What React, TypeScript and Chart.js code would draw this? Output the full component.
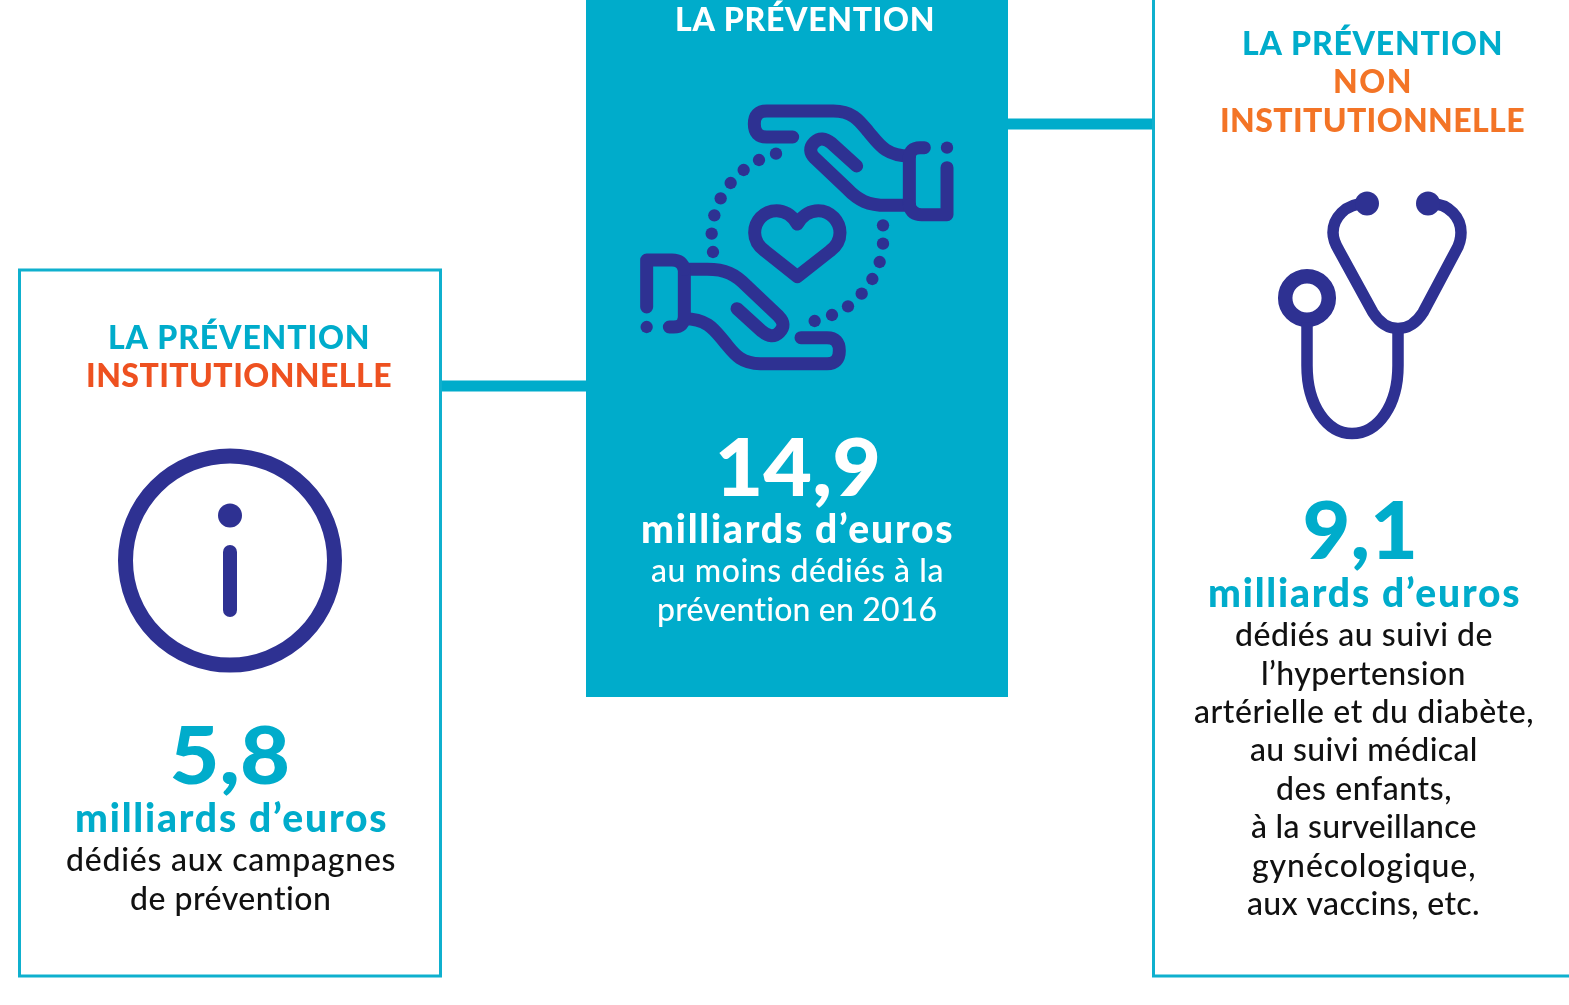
import React, { useEffect, useRef } from "react";
import { Chart, registerables } from "chart.js";

Chart.register(...registerables);

// ---- data ----
const categories = ["La prévention institutionnelle", "La prévention", "La prévention non institutionnelle"];
const amounts = [5.8, 14.9, 9.1];
const unit = "milliards d’euros";
const titleLeft = ["LA PRÉVENTION", "INSTITUTIONNELLE"];
const titleCenter = ["LA PRÉVENTION"];
const titleRight = ["LA PRÉVENTION", "NON", "INSTITUTIONNELLE"];
const textLeft = ["dédiés aux campagnes", "de prévention"];
const textCenter = ["au moins dédiés à la", "prévention en 2016"];
const textRight = [
  "dédiés au suivi de",
  "l’hypertension",
  "artérielle et du diabète,",
  "au suivi médical",
  "des enfants,",
  "à la surveillance",
  "gynécologique,",
  "aux vaccins, etc.",
];

// ---- style ----
const CYAN = "#00accb";
const NAVY = "#2e3192";
const RED = "#ee5120";
const ORANGE = "#f37426";
const INK = "#111111";
const FAMILY = "Lato, 'Open Sans', sans-serif";

type Box = [number, number, number]; // left, right, baseline

function fitted(ctx: CanvasRenderingContext2D, text: string, font: string, color: string, box: Box) {
  const [l, r, b] = box;
  ctx.font = font;
  ctx.fillStyle = color;
  ctx.textAlign = "left";
  ctx.textBaseline = "alphabetic";
  (ctx as any).letterSpacing = "0px";
  const w = ctx.measureText(text).width;
  const sp = (r + 1.5 - l - w) / Math.max(1, text.length - 1);
  (ctx as any).letterSpacing = `${sp}px`;
  ctx.fillText(text, l, b + 1);
  (ctx as any).letterSpacing = "0px";
}

function stretched(ctx: CanvasRenderingContext2D, text: string, font: string, color: string, box: Box) {
  const [l, r, b] = box;
  ctx.font = font;
  ctx.fillStyle = color;
  ctx.textAlign = "left";
  ctx.textBaseline = "alphabetic";
  const w = ctx.measureText(text).width;
  ctx.save();
  ctx.translate(l - 3.5, b + 1);
  ctx.scale((r - l + 6.5) / w, 1);
  ctx.fillText(text, 0, 0);
  ctx.restore();
}

function handPaths(ctx: CanvasRenderingContext2D) {
  ctx.beginPath();
  ctx.moveTo(518, 171);
  ctx.lineTo(440, 171);
  ctx.quadraticCurveTo(403, 171, 403, 132);
  ctx.quadraticCurveTo(403, 93, 440, 93);
  ctx.lineTo(640, 93);
  ctx.bezierCurveTo(700, 93, 720, 125, 745, 155);
  ctx.bezierCurveTo(775, 190, 795, 228, 868, 228);
  ctx.stroke();

  ctx.beginPath();
  ctx.moveTo(710, 258);
  ctx.lineTo(635, 190);
  ctx.quadraticCurveTo(605, 165, 583, 187);
  ctx.quadraticCurveTo(560, 210, 585, 235);
  ctx.lineTo(680, 325);
  ctx.bezierCurveTo(715, 362, 745, 376, 800, 376);
  ctx.lineTo(868, 376);
  ctx.stroke();

  ctx.beginPath();
  ctx.moveTo(868, 376);
  ctx.lineTo(868, 235);
  ctx.quadraticCurveTo(868, 203, 900, 203);
  ctx.lineTo(913, 203);
  ctx.stroke();

  ctx.beginPath();
  ctx.moveTo(868, 376);
  ctx.quadraticCurveTo(875, 404, 905, 404);
  ctx.lineTo(981, 404);
  ctx.lineTo(981, 263);
  ctx.stroke();

  ctx.beginPath();
  ctx.arc(981, 203, 18.5, 0, Math.PI * 2);
  ctx.fill();
}

function handsIcon(ctx: CanvasRenderingContext2D) {
  ctx.save();
  ctx.translate(620, 80);
  ctx.scale(1 / 3, 1 / 3);
  ctx.strokeStyle = NAVY;
  ctx.fillStyle = NAVY;
  ctx.lineWidth = 39;
  ctx.lineCap = "round";
  ctx.lineJoin = "round";
  handPaths(ctx);
  ctx.save();
  ctx.translate(530.5 * 2, 472 * 2);
  ctx.rotate(Math.PI);
  handPaths(ctx);
  ctx.restore();
  const dots = [
    [468, 221], [417, 240], [371, 270], [332, 309], [302, 355], [283, 406], [275, 461], [279, 516],
    [584, 723], [636, 705], [684, 679], [725, 641], [757, 597], [779, 546], [789, 491], [789, 436],
  ];
  dots.forEach(([x, y]) => {
    ctx.beginPath();
    ctx.arc(x, y, 18.5, 0, Math.PI * 2);
    ctx.fill();
  });
  ctx.beginPath();
  ctx.moveTo(532, 432);
  ctx.bezierCurveTo(515, 402, 490, 392, 470, 392);
  ctx.bezierCurveTo(430, 392, 404, 425, 404, 458);
  ctx.bezierCurveTo(404, 480, 415, 498, 435, 513);
  ctx.lineTo(532, 590);
  ctx.lineTo(630, 513);
  ctx.bezierCurveTo(650, 498, 660, 480, 660, 458);
  ctx.bezierCurveTo(660, 425, 632, 392, 595, 392);
  ctx.bezierCurveTo(575, 392, 549, 402, 532, 432);
  ctx.closePath();
  ctx.stroke();
  ctx.restore();
}

function infoIcon(ctx: CanvasRenderingContext2D) {
  ctx.save();
  ctx.strokeStyle = NAVY;
  ctx.fillStyle = NAVY;
  ctx.lineWidth = 15;
  ctx.beginPath();
  ctx.arc(230, 560.5, 104.5, 0, Math.PI * 2);
  ctx.stroke();
  ctx.beginPath();
  ctx.arc(230, 515.5, 12, 0, Math.PI * 2);
  ctx.fill();
  ctx.lineWidth = 14;
  ctx.lineCap = "round";
  ctx.beginPath();
  ctx.moveTo(230, 552);
  ctx.lineTo(230, 610);
  ctx.stroke();
  ctx.restore();
}

function stethoscopeIcon(ctx: CanvasRenderingContext2D) {
  ctx.save();
  ctx.translate(0, 0.5);
  ctx.strokeStyle = NAVY;
  ctx.fillStyle = NAVY;
  ctx.lineWidth = 14.5;
  ctx.beginPath();
  ctx.arc(1307, 297.5, 21.8, 0, Math.PI * 2);
  ctx.stroke();
  ctx.lineWidth = 11.5;
  ctx.lineJoin = "round";
  ctx.beginPath();
  ctx.moveTo(1307, 322);
  ctx.lineTo(1307, 365);
  ctx.bezierCurveTo(1307, 405, 1327, 433, 1352, 433);
  ctx.bezierCurveTo(1378, 433, 1398, 405, 1398, 365);
  ctx.lineTo(1398, 328);
  ctx.stroke();
  ctx.beginPath();
  ctx.moveTo(1365, 203);
  ctx.bezierCurveTo(1345, 203, 1333, 218, 1333, 232);
  ctx.bezierCurveTo(1333, 240, 1336, 245, 1339, 250);
  ctx.lineTo(1373, 312);
  ctx.bezierCurveTo(1380, 323, 1388, 328, 1398, 328);
  ctx.bezierCurveTo(1408, 328, 1416, 323, 1423, 312);
  ctx.lineTo(1456, 250);
  ctx.bezierCurveTo(1459, 245, 1461, 240, 1461, 232);
  ctx.bezierCurveTo(1461, 218, 1450, 203, 1430, 203);
  ctx.stroke();
  [1367, 1428].forEach((x) => {
    ctx.beginPath();
    ctx.arc(x, 203, 12, 0, Math.PI * 2);
    ctx.fill();
  });
  ctx.restore();
}

const frenchNumber = (v: number) => v.toFixed(1).replace(".", ",");

const infographic = {
  id: "infographic",
  beforeDatasetsDraw(chart: any) {
    const ctx: CanvasRenderingContext2D = chart.ctx;
    const values: number[] = chart.data.datasets[0].data;
    ctx.save();
    // connectors
    ctx.fillStyle = CYAN;
    ctx.fillRect(441, 380.5, 146, 11);
    ctx.fillRect(1006, 118.5, 147, 11);
    // central panel
    ctx.fillRect(586, 0, 422, 697);
    // outlined panels
    ctx.strokeStyle = "#0fb0ce";
    ctx.lineWidth = 3;
    ctx.strokeRect(19.5, 270, 421, 706);
    ctx.beginPath();
    ctx.moveTo(1153.5, 0);
    ctx.lineTo(1153.5, 976);
    ctx.lineTo(1569, 976);
    ctx.stroke();

    const tf = `900 32px ${FAMILY}`;
    const nf = `900 80px ${FAMILY}`;
    const uf = `900 39px ${FAMILY}`;
    const bf = `500 32px ${FAMILY}`;

    // left column
    fitted(ctx, titleLeft[0], tf, CYAN, [108, 368, 348]);
    fitted(ctx, titleLeft[1], tf, RED, [86, 390, 386]);
    stretched(ctx, frenchNumber(values[0]), nf, CYAN, [173, 287, 783]);
    fitted(ctx, unit, uf, CYAN, [75, 385, 831]);
    fitted(ctx, textLeft[0], bf, INK, [66, 394, 870]);
    fitted(ctx, textLeft[1], bf, INK, [130, 330, 909]);

    // centre column
    fitted(ctx, titleCenter[0], tf, "#ffffff", [675, 933, 30]);
    stretched(ctx, frenchNumber(values[1]), nf, "#ffffff", [718, 878, 495]);
    fitted(ctx, unit, uf, "#ffffff", [641, 951, 542]);
    fitted(ctx, textCenter[0], bf, "#ffffff", [651, 942, 581]);
    fitted(ctx, textCenter[1], bf, "#ffffff", [657, 936, 620]);

    // right column
    fitted(ctx, titleRight[0], tf, CYAN, [1242, 1501, 54]);
    fitted(ctx, titleRight[1], tf, ORANGE, [1333, 1410, 92]);
    fitted(ctx, titleRight[2], tf, ORANGE, [1220, 1523, 131]);
    stretched(ctx, frenchNumber(values[2]), nf, CYAN, [1306, 1415, 558]);
    fitted(ctx, unit, uf, CYAN, [1208, 1518, 606]);
    const rightBoxes: Box[] = [
      [1235, 1491, 645],
      [1261, 1464, 684],
      [1194, 1532, 722],
      [1250, 1476, 760],
      [1276, 1450, 799],
      [1251, 1475, 837],
      [1252, 1474, 876],
      [1247, 1478, 914],
    ];
    textRight.forEach((t, i) => fitted(ctx, t, bf, INK, rightBoxes[i]));

    handsIcon(ctx);
    infoIcon(ctx);
    stethoscopeIcon(ctx);
    ctx.restore();
  },
};

export default function App() {
  const ref = useRef<HTMLCanvasElement | null>(null);
  useEffect(() => {
    if (!ref.current) return;
    const chart = new Chart(ref.current, {
      type: "bar",
      data: {
        labels: categories,
        datasets: [{ label: unit, data: amounts, backgroundColor: "transparent", borderWidth: 0 }],
      },
      options: {
        responsive: false,
        animation: false,
        layout: { padding: 0 },
        plugins: { legend: { display: false }, title: { display: false }, tooltip: { enabled: false } },
        scales: { x: { display: false }, y: { display: false, beginAtZero: true } },
      },
      plugins: [infographic],
    } as any);
    return () => chart.destroy();
  }, []);
  return (
    <div style={{ position: "fixed", left: 0, top: 0, width: 1569, height: 1005, background: "#ffffff", overflow: "hidden" }}>
      <canvas ref={ref} width={1569} height={1005} style={{ display: "block", width: 1569, height: 1005 }} />
    </div>
  );
}
